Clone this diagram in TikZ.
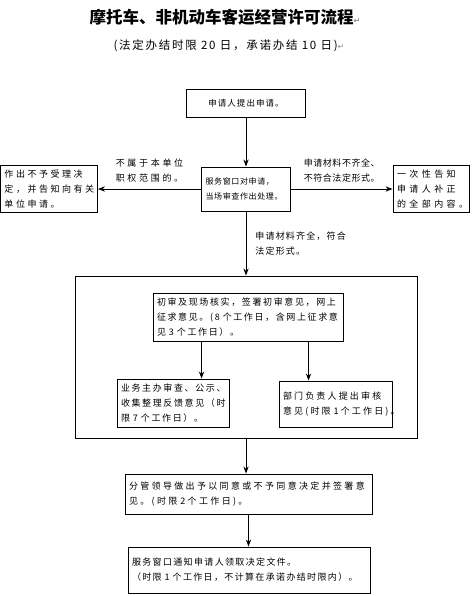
\documentclass[tikz,border=0pt]{standalone}
\usepackage{fontspec}
\usetikzlibrary{positioning,arrows.meta}
\newfontfamily\cjk{Noto Sans CJK SC}
\newfontfamily\symb{DejaVu Sans}
% letter spacing of the Chinese text, in percent of the size
\newcommand{\gapfont}[2]{\cjk\addfontfeature{LetterSpace=#2}\fontsize{#1}{15}\selectfont}
\newcommand{\ret}{{\symb\color{black!45}\fontsize{8}{8}\selectfont ↵}}
\tikzset{
  >=Stealth,
  flow/.style={->, line width=0.9pt},
}

\begin{document}
\begin{tikzpicture}[
  x=1pt, y=-1pt,
  box/.style={draw, line width=0.9pt, inner sep=4pt, text width=#1pt, align=left, font=\gapfont{9}{18}},
  note/.style={align=left, inner sep=1pt, font=\gapfont{9}{18}}
]
\useasboundingbox (0,0) rectangle (471,596);
\node[font=\cjk\bfseries\fontsize{16.5}{18}\selectfont] (title) at (225,17) {摩托车、非机动车客运经营许可流程\ret};
\node[font=\gapfont{11.5}{15}] (limit) at (229,46) {(法定办结时限 20 日，承诺办结 10 日)\ret};

\node[box=111, align=center, minimum height=28, font=\gapfont{8.5}{12}] (apply) at (246,103) {申请人提出申请。};
\node[box=81, minimum height=44, font=\gapfont{8}{8}] (window) at (246,189) {服务窗口对申请，\\当场审查作出处理。};
\node[box=89, minimum height=46, font=\gapfont{9}{28}] (reject) at (49,189) {作出不予受理决\\定，并告知向有关\\单位申请。};
\node[box=68, minimum height=45, font=\gapfont{9}{38}] (notify) at (431,189) {一次性告知\\申请人补正\\的全部内容。};

\node[draw, line width=0.9pt, minimum width=342, minimum height=162] (review) at (246,357) {};
\node[box=182, minimum height=48] (first) at (248,317) {初审及现场核实，签署初审意见，网上\\征求意见。(8~个工作日，含网上征求意\\见~3~个工作日）。};
\node[box=104, minimum height=48] (clerk) at (173,403) {业务主办审查、公示、\\收集整理反馈意见（时\\限~7~个工作日）。};
\node[box=105, minimum height=46, font=\gapfont{9}{24}] (head) at (335.5,404) {部门负责人提出审核\\意见(时限~1个工作日)。};

\node[box=239, minimum height=40, font=\gapfont{9}{26}] (leader) at (248.5,494) {分管领导做出予以同意或不予同意决定并签署意\\见。(时限~2个工作日)。};
\node[box=234, minimum height=46, font=\gapfont{9}{15}] (issue) at (249,570) {服务窗口通知申请人领取决定文件。\\（时限~1~个工作日，不计算在承诺办结时限内）。};

\draw[flow] (apply) -- (window);
\path[flow]
(window) edge node[note, above=5pt, font=\gapfont{9}{30}] {不属于本单位\\职权范围的。} (reject)
(window) edge node[note, above=5pt, font=\gapfont{9}{6}] {申请材料不齐全、\\不符合法定形式。} (notify)
(window) edge node[note, right=8pt, font=\gapfont{9}{13}] {申请材料齐全，符合\\法定形式。} (review);
\draw[flow] ([xshift=49pt]first.south west) -- ([xshift=85pt]clerk.north west);
\draw[flow] ([xshift=156pt]first.south west) -- ([xshift=30pt]head.north west);
\draw[flow] (review.south) -- (review.south |- leader.north);
\draw[flow] (leader.south) -- (leader.south |- issue.north);
\end{tikzpicture}
\end{document}
